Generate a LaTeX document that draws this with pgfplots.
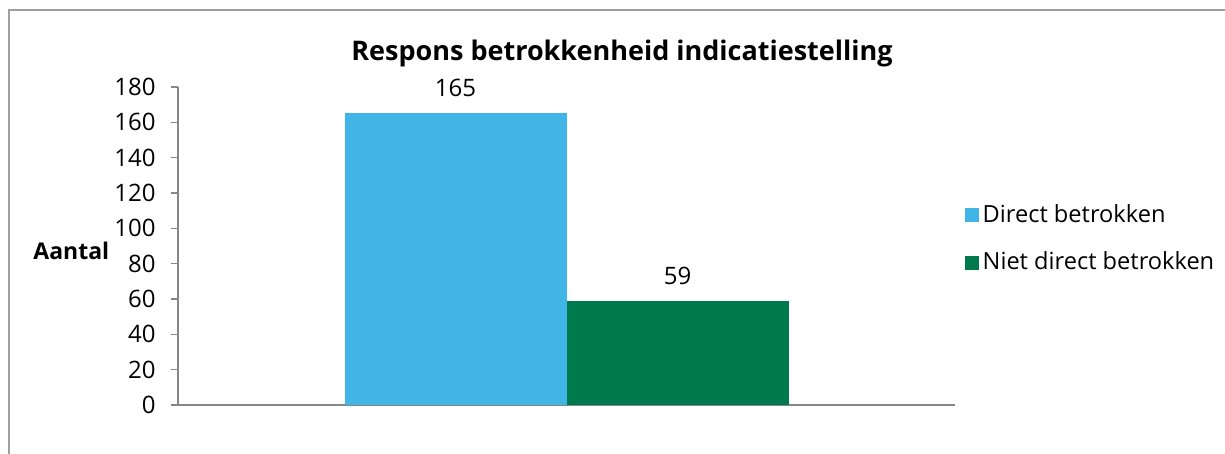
\documentclass[border=0pt]{standalone}
\usepackage{fontspec}
\setmainfont{Open Sans}
\usepackage{pgfplots}
\pgfplotsset{compat=1.18}
\definecolor{cblue}{RGB}{65,182,230}
\definecolor{cgreen}{RGB}{0,122,77}
\definecolor{caxis}{RGB}{134,134,134}
\definecolor{cframe}{RGB}{160,160,160}
\begin{document}
\fontsize{12pt}{14pt}\selectfont
\begin{tikzpicture}[x=0.5pt,y=0.5pt]
\useasboundingbox (0,0) rectangle (1225,454);
\draw[cframe,line width=0.8pt] (9,0) -- (9,444) -- (1225,444);
\begin{axis}[
  at={(89pt,24.5pt)}, anchor=south west,
  scale only axis, width=388.5pt, height=159pt,
  xmin=-0.5, xmax=0.5, ymin=0, ymax=180,
  ytick={0,20,...,180},
  xtick=\empty,
  axis x line*=bottom, axis y line*=left,
  axis line style={caxis, line width=0.8pt},
  y axis line style={-}, x axis line style={-},
  ytick style={caxis, line width=0.8pt},
  tick align=outside, major tick length=3.5pt,
  ybar=0pt, bar width=0.285714,
  ticklabel style={font=\fontsize{12pt}{14pt}\selectfont},
  yticklabel style={xshift=-3.5pt},
  /pgf/number format/assume math mode=true,
  nodes near coords,
  nodes near coords style={font=\fontsize{12pt}{14pt}\selectfont, text=black, yshift=4pt},
  legend style={draw=none, at={(1.012,0.645)}, anchor=north west, font=\fontsize{11.8pt}{14pt}\selectfont, row sep=9pt, inner sep=0pt},
  legend cell align=left,
  legend image code/.code={\fill[#1] (0cm,-3.5pt) rectangle (7pt,3.5pt);},
  clip=false,
]
\addplot[fill=cblue, draw=none] coordinates {(0,165)};
\addplot[fill=cgreen, draw=none] coordinates {(0,59)};
\legend{Direct betrokken, Niet direct betrokken}
\end{axis}
\node[font=\fontsize{13.5pt}{16pt}\selectfont\bfseries, anchor=base, inner sep=0pt] at (622,393) {Respons betrokkenheid indicatiestelling};
\node[font=\fontsize{11.5pt}{14pt}\selectfont\bfseries, anchor=base west, inner sep=0pt] at (33,194) {Aantal};
\end{tikzpicture}
\end{document}
